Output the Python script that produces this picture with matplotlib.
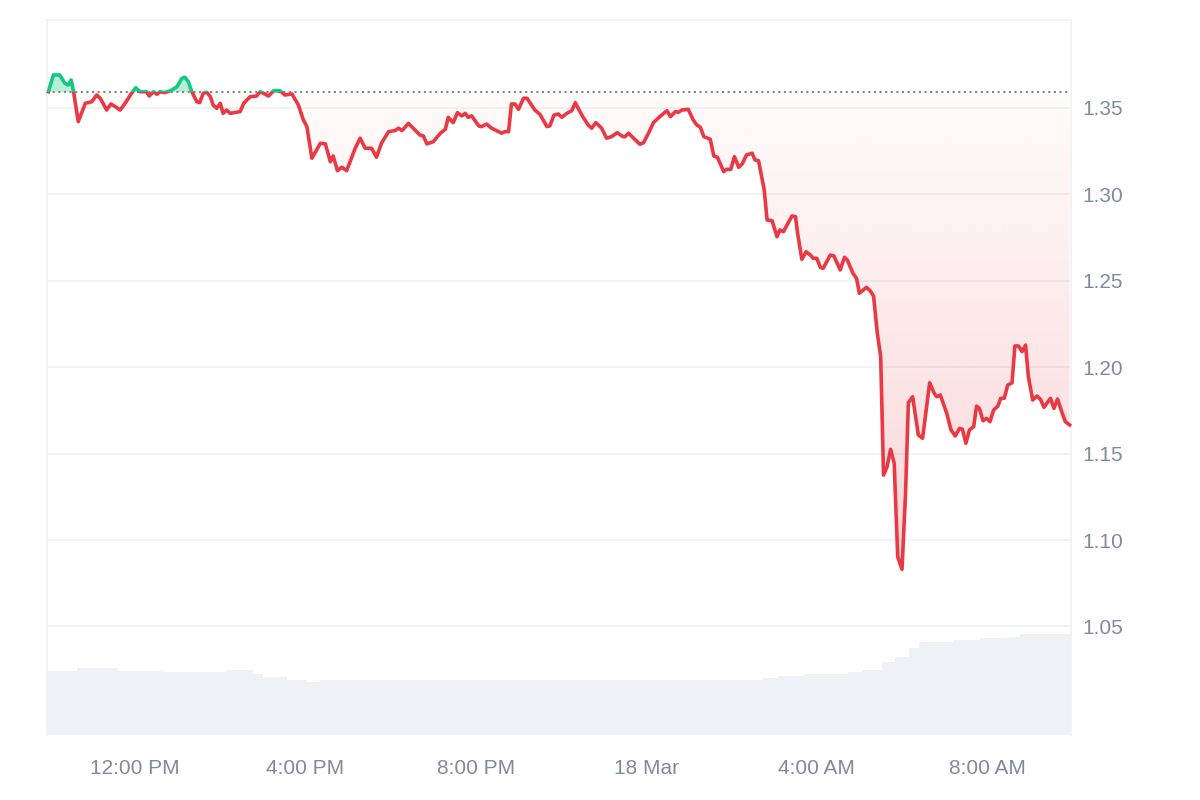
import numpy as np
import pandas as pd
import matplotlib
matplotlib.use("Agg")
import matplotlib.pyplot as plt
import matplotlib.dates as mdates
from matplotlib.colors import to_rgb
from matplotlib.patches import Rectangle
from matplotlib.path import Path
from matplotlib.ticker import FormatStrFormatter

plt.rcParams['font.family'] = ['Liberation Sans', 'DejaVu Sans']

start = pd.Timestamp("2025-03-17 09:56")

# price series (minutes after start, price)
minutes = [2, 9, 18, 25, 30, 34, 37, 44, 54, 63, 70, 75, 84, 90, 96, 103, 110, 119, 125, 131,
           140, 144, 150, 155, 159, 166, 176, 183, 190, 194, 199, 204, 211, 215, 220, 225, 230, 234, 239, 244,
           248, 253, 258, 272, 277, 286, 295, 300, 305, 312, 319, 328, 335, 345, 354, 361, 366, 373, 385, 392,
           399, 403, 409, 415, 422, 434, 441, 448, 457, 464, 471, 481, 490, 495, 500, 509, 525, 530, 535, 544,
           554, 561, 565, 572, 578, 584, 589, 593, 598, 608, 612, 619, 626, 636, 640, 645, 650, 654, 659, 664,
           671, 676, 687, 694, 704, 708, 714, 720, 725, 732, 739, 744, 748, 755, 762, 767, 773, 781, 788, 795,
           803, 811, 814, 819, 826, 835, 840, 847, 854, 863, 873, 878, 885, 889, 894, 903, 910, 915, 920, 925,
           934, 939, 944, 953, 957, 963, 968, 974, 979, 985, 993, 997, 1002, 1010, 1014, 1021, 1028, 1032, 1037, 1049,
           1054, 1057, 1063, 1069, 1075, 1079, 1084, 1089, 1093, 1103, 1108, 1117, 1123, 1127, 1135, 1140, 1144, 1154, 1159, 1164,
           1169, 1174, 1178, 1183, 1188, 1193, 1198, 1204, 1209, 1213, 1219, 1227, 1233, 1243, 1249, 1253, 1258, 1267, 1273, 1279,
           1285, 1289, 1294, 1299, 1305, 1309, 1313, 1318, 1323, 1328, 1333, 1339, 1343, 1348, 1353, 1359, 1363, 1368, 1373, 1378,
           1382, 1388, 1394, 1399, 1404, 1413, 1418, 1423, 1429, 1434, 1440]
prices = [1.3594, 1.3691, 1.3691, 1.3643, 1.3633, 1.3662, 1.3604, 1.3421, 1.3527, 1.3536, 1.3575, 1.3556, 1.3488, 1.3523, 1.3508, 1.3488, 1.3527, 1.3585, 1.3617, 1.3594,
          1.3594, 1.3569, 1.3594, 1.3579, 1.3594, 1.3589, 1.3604, 1.3623, 1.3672, 1.3678, 1.3652, 1.3594, 1.3536, 1.3531, 1.3585, 1.3591, 1.3565, 1.3517, 1.3498, 1.3527,
          1.3469, 1.3488, 1.3469, 1.3479, 1.3527, 1.3565, 1.3569, 1.3594, 1.3585, 1.3569, 1.3600, 1.3600, 1.3575, 1.3581, 1.3517, 1.3431, 1.3392, 1.3209, 1.3296, 1.3292,
          1.3189, 1.3222, 1.3137, 1.3157, 1.3137, 1.3267, 1.3325, 1.3267, 1.3267, 1.3215, 1.3296, 1.3363, 1.3369, 1.3383, 1.3369, 1.3411, 1.3344, 1.3338, 1.3292, 1.3305,
          1.3354, 1.3377, 1.3446, 1.3415, 1.3473, 1.3454, 1.3469, 1.3446, 1.3454, 1.3396, 1.3392, 1.3407, 1.3383, 1.3363, 1.3354, 1.3363, 1.3363, 1.3523, 1.3523, 1.3492,
          1.3556, 1.3556, 1.3488, 1.3464, 1.3392, 1.3396, 1.3459, 1.3465, 1.3446, 1.3469, 1.3484, 1.3531, 1.3498, 1.3446, 1.3402, 1.3383, 1.3415, 1.3383, 1.3325, 1.3334,
          1.3357, 1.3334, 1.3334, 1.3354, 1.3325, 1.3290, 1.3299, 1.3354, 1.3415, 1.3450, 1.3484, 1.3450, 1.3479, 1.3475, 1.3488, 1.3492, 1.3431, 1.3402, 1.3388, 1.3334,
          1.3319, 1.3222, 1.3215, 1.3131, 1.3145, 1.3145, 1.3218, 1.3157, 1.3176, 1.3228, 1.3238, 1.3199, 1.3195, 1.3025, 1.2852, 1.2848, 1.2755, 1.2794, 1.2784, 1.2875,
          1.2871, 1.2775, 1.2624, 1.2668, 1.2649, 1.2630, 1.2630, 1.2578, 1.2572, 1.2649, 1.2644, 1.2563, 1.2636, 1.2620, 1.2543, 1.2514, 1.2428, 1.2462, 1.2443, 1.2412,
          1.2205, 1.2061, 1.1376, 1.1424, 1.1525, 1.1444, 1.0903, 1.0830, 1.1270, 1.1795, 1.1829, 1.1608, 1.1589, 1.1910, 1.1852, 1.1829, 1.1839, 1.1733, 1.1637, 1.1602,
          1.1646, 1.1641, 1.1560, 1.1637, 1.1656, 1.1775, 1.1762, 1.1690, 1.1704, 1.1685, 1.1752, 1.1775, 1.1820, 1.1820, 1.1897, 1.1910, 1.2123, 1.2123, 1.2090, 1.2128,
          1.1945, 1.1810, 1.1833, 1.1814, 1.1768, 1.1820, 1.1762, 1.1816, 1.1742, 1.1685, 1.1666]
baseline = 1.3593

# volume (step series, minutes after start)
vol_minutes = [0, 42, 100, 162, 252, 290, 304, 338, 366, 385, 1008, 1028, 1066, 1128,
               1147, 1176, 1194, 1214, 1228, 1276, 1314, 1352, 1370, 1442]
vol_values = [64.3, 66.7, 64.3, 62.7, 65.0, 61.0, 58.3, 55.0, 52.7, 54.7, 56.7, 58.7, 61.0, 63.0,
              65.0, 73.3, 78.3, 86.7, 92.7, 95.0, 96.7, 98.3, 101.0, 101.0]

tick_times = ["2025-03-17 12:00", "2025-03-17 16:00", "2025-03-17 20:00",
              "2025-03-18 00:00", "2025-03-18 04:00", "2025-03-18 08:00"]
tick_labels = ["12:00 PM", "4:00 PM", "8:00 PM", "18 Mar", "4:00 AM", "8:00 AM"]
y_ticks = [1.05, 1.10, 1.15, 1.20, 1.25, 1.30, 1.35]

RED = '#ea3943'
GREEN = '#16c784'
GRID = '#eff1f4'
LABEL = '#808a9d'

t = mdates.date2num((start + pd.to_timedelta(minutes, unit="m")).to_numpy())
p = np.array(prices)
vt = mdates.date2num((start + pd.to_timedelta(vol_minutes, unit="m")).to_numpy())
x0 = mdates.date2num(start.to_datetime64())
x1 = mdates.date2num((start + pd.Timedelta(minutes=1442)).to_datetime64())

fig = plt.figure(figsize=(12, 8), dpi=100)
ax = fig.add_axes([47 / 1200, 65 / 800, 1024 / 1200, 715 / 800])
ax2 = ax.twinx()

# volume behind the price
ax2.fill_between(vt, vol_values, 0, step='post', color='#eef1f5', linewidth=0)
ax2.set_ylim(0, 715)
ax2.set_yticks([])
for s in ax2.spines.values():
    s.set_visible(False)
ax.set_zorder(ax2.get_zorder() + 1)
ax.patch.set_visible(False)

# pink gradient below baseline
below = ax.fill_between(t, p, baseline, where=p < baseline, interpolate=True,
                        facecolor='none', edgecolor='none')
clip = Path.make_compound_path(*below.get_paths())
grad = np.zeros((256, 1, 4))
grad[..., :3] = to_rgb(RED)
grad[:, 0, 3] = np.linspace(0.21, 0.02, 256)
im = ax.imshow(grad, extent=[t[0], t[-1], 1.08, baseline], origin='lower',
               aspect='auto', interpolation='bicubic', zorder=1)
im.set_clip_path(clip, transform=ax.transData)

# green fill above baseline
ax.fill_between(t, p, baseline, where=p > baseline, interpolate=True,
                color=GREEN, alpha=0.3, linewidth=0, zorder=1)

# baseline
ax.axhline(baseline, color='#7d8594', lw=1.5, linestyle=(0, (1, 1.7)), zorder=2)

# line split in two colors at the baseline
red_line, = ax.plot(t, p, color=RED, lw=2.6, solid_joinstyle='round', zorder=4)
green_line, = ax.plot(t, p, color=GREEN, lw=2.6, solid_joinstyle='round', zorder=4)
red_line.set_clip_path(Rectangle((x0 - 1, 0), 5, baseline, transform=ax.transData))
green_line.set_clip_path(Rectangle((x0 - 1, baseline), 5, 1, transform=ax.transData))

ax.set_xlim(x0, x1)
ax.set_ylim(0.9872, 1.4009)

ax.set_yticks(y_ticks)
ax.yaxis.set_major_formatter(FormatStrFormatter('%.2f'))
ax.yaxis.tick_right()
ax.yaxis.grid(True, color=GRID, lw=1.2)
ax.set_axisbelow(True)
ax.set_xticks(mdates.date2num(pd.to_datetime(tick_times).to_numpy()))
ax.set_xticklabels(tick_labels)
ax.tick_params(axis='y', length=0, pad=8, labelsize=15, labelcolor=LABEL)
ax.tick_params(axis='x', length=0, pad=17, labelsize=15, labelcolor=LABEL)

for side in ['left', 'top', 'right']:
    ax.spines[side].set_color(GRID)
    ax.spines[side].set_linewidth(1.2)
ax.spines['bottom'].set_visible(False)

fig.savefig("out.png", dpi=100, facecolor='white')
